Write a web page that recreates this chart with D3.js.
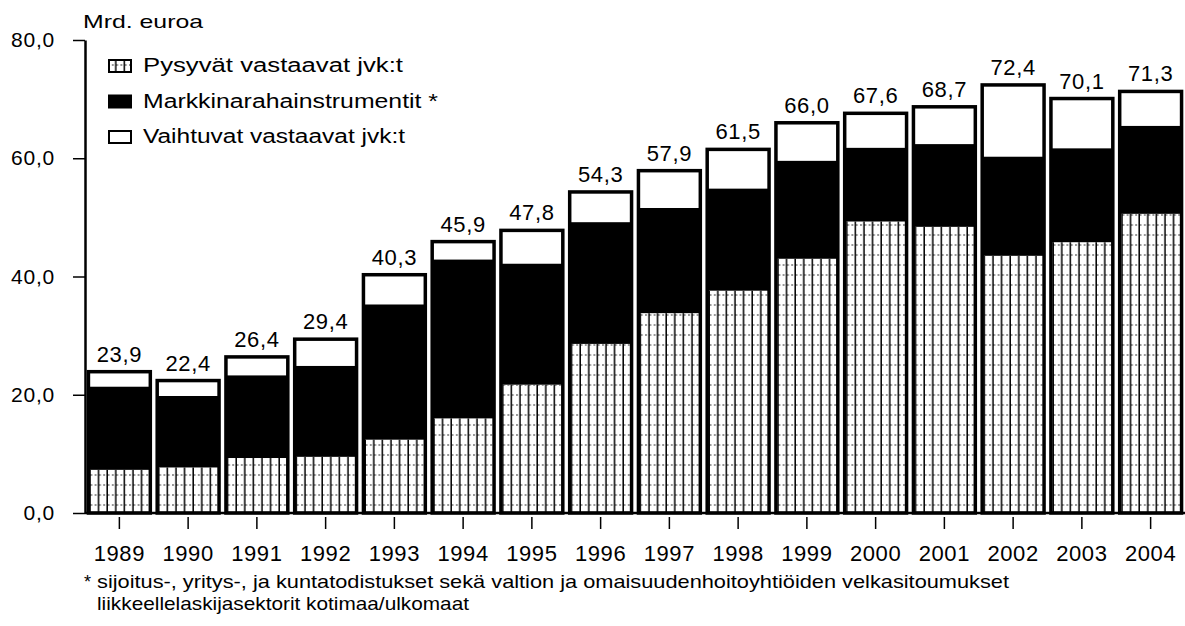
<!DOCTYPE html>
<html>
<head>
<meta charset="utf-8">
<script src="https://cdn.jsdelivr.net/npm/d3@7"></script>
<style>
  body { margin: 0; background: #fff; }
  svg text { font-family: "Liberation Sans", Arial, Helvetica, sans-serif; fill: #000; }
</style>
</head>
<body>
<div class="chart-container"></div>
<script>
// Data (Mrd. euroa)
const years = [1989, 1990, 1991, 1992, 1993, 1994, 1995, 1996, 1997, 1998, 1999, 2000, 2001, 2002, 2003, 2004];
const pysyvat = [7.3, 7.7, 9.3, 9.5, 12.4, 16.0, 21.7, 28.6, 33.8, 37.6, 43.0, 49.3, 48.4, 43.5, 45.8, 50.6];
const markkina = [14.1, 12.1, 14.0, 15.4, 22.9, 26.9, 20.5, 20.6, 17.8, 17.3, 16.6, 12.5, 14.0, 16.8, 15.9, 14.9];
const vaihtuvat = [2.5, 2.6, 3.1, 4.5, 5.0, 3.0, 5.6, 5.1, 6.3, 6.6, 6.4, 5.8, 6.3, 12.1, 8.4, 5.8];
const totalLabels = ["23,9", "22,4", "26,4", "29,4", "40,3", "45,9", "47,8", "54,3", "57,9", "61,5", "66,0", "67,6", "68,7", "72,4", "70,1", "71,3"];
const yTicks = [0, 20, 40, 60, 80];
const seriesNames = ["Pysyvät vastaavat jvk:t", "Markkinarahainstrumentit *", "Vaihtuvat vastaavat jvk:t"];
const footnote = [
    "sijoitus-, yritys-, ja kuntatodistukset sekä valtion ja omaisuudenhoitoyhtiöiden velkasitoumukset",
    "liikkeellelaskijasektorit kotimaa/ulkomaat"
];

function draw() {
    const width = 1185;
    const height = 626;
    const marginLeft = 85;
    const marginRight = 0;
    const marginTop = 40;
    const zeroY = 513;

    const rows = years.map((yr, i) => ({ year: yr, p: pysyvat[i], m: markkina[i], v: vaihtuvat[i] }));
    const keys = ["p", "m", "v"];
    const stacked = d3.stack().keys(keys)(rows);

    const x = d3.scaleBand()
        .domain(years)
        .range([marginLeft, width - marginRight])
        .paddingInner(0.1)
        .paddingOuter(0.05);

    const y = d3.scaleLinear()
        .domain([0, 80])
        .range([zeroY, marginTop]);

    const svg = d3.select('.chart-container').append("svg")
        .attr("width", width)
        .attr("height", height);

    // grid pattern for the bottom segment
    const defs = svg.append("defs");
    const pat = defs.append("pattern")
        .attr("id", "grid")
        .attr("patternUnits", "userSpaceOnUse")
        .attr("width", 8.6)
        .attr("height", 10);
    pat.append("rect").attr("width", 8.6).attr("height", 10).attr("fill", "#fff");
    pat.append("line").attr("x1", 4).attr("x2", 4).attr("y1", 0).attr("y2", 10)
        .attr("stroke", "#000").attr("stroke-width", 1.5);
    pat.append("line").attr("x1", 0).attr("x2", 8.6).attr("y1", 5).attr("y2", 5)
        .attr("stroke", "#000").attr("stroke-width", 0.8).attr("stroke-dasharray", "2,2.3");

    const fills = { p: "url(#grid)", m: "#000", v: "#fff" };

    // segments
    svg.append("g").selectAll("g")
        .data(stacked)
        .join("g")
        .attr("fill", d => fills[d.key])
        .selectAll("rect")
        .data(d => d)
        .join("rect")
        .attr("x", d => x(d.data.year))
        .attr("y", d => y(d[1]))
        .attr("width", x.bandwidth())
        .attr("height", d => y(d[0]) - y(d[1]));

    // bar outlines
    const top = stacked[stacked.length - 1];
    svg.append("g").selectAll("rect")
        .data(top)
        .join("rect")
        .attr("x", d => x(d.data.year))
        .attr("y", d => y(d[1]))
        .attr("width", x.bandwidth())
        .attr("height", d => y(0) - y(d[1]))
        .attr("fill", "none")
        .attr("stroke", "#000")
        .attr("stroke-width", 3.5);

    // total labels
    svg.append("g").selectAll("text")
        .data(top)
        .join("text")
        .attr("x", (d, i) => x(d.data.year) + x.bandwidth() / 2)
        .attr("y", d => y(d[1]) - 10)
        .attr("text-anchor", "middle")
        .style("font-size", "22px")
        .style("letter-spacing", "0.6px")
        .text((d, i) => totalLabels[i]);

    // y axis
    const yAxis = svg.append("g")
        .attr("transform", `translate(${marginLeft},0)`)
        .call(d3.axisLeft(y).tickValues(yTicks)
            .tickFormat(d => d3.format(".1f")(d).replace(".", ","))
            .tickSizeInner(12).tickSizeOuter(0).tickPadding(18));
    yAxis.select(".domain").attr("stroke-width", 2.5);
    yAxis.selectAll(".tick line").attr("stroke-width", 1.5);
    yAxis.selectAll("text").style("font-size", "21px").style("letter-spacing", "0.8px");

    // x axis line
    svg.append("line")
        .attr("x1", marginLeft).attr("x2", width)
        .attr("y1", y(0)).attr("y2", y(0))
        .attr("stroke", "#000").attr("stroke-width", 2.5);

    // x axis ticks and labels
    const xAxis = svg.append("g")
        .attr("transform", `translate(0,${zeroY + 4})`)
        .call(d3.axisBottom(x).tickSizeInner(12).tickSizeOuter(0).tickPadding(16));
    xAxis.select(".domain").remove();
    xAxis.selectAll(".tick line").attr("stroke-width", 1.5);
    xAxis.selectAll("text").style("font-size", "22px").style("letter-spacing", "0.6px");

    // unit label
    svg.append("text")
        .attr("x", 83)
        .attr("y", 28)
        .style("font-size", "19px")
        .attr("textLength", 120)
        .attr("lengthAdjust", "spacingAndGlyphs")
        .text("Mrd. euroa");

    // legend
    const legend = svg.append("g");
    const legendFills = ["url(#grid)", "#000", "#fff"];
    const legendWidths = [260, 295, 262];
    seriesNames.forEach((name, i) => {
        legend.append("rect")
            .attr("x", 109)
            .attr("y", 60 + i * 35.5)
            .attr("width", 22)
            .attr("height", 12)
            .attr("fill", legendFills[i])
            .attr("stroke", "#000")
            .attr("stroke-width", 2);
        legend.append("text")
            .attr("x", 143)
            .attr("y", 72 + i * 35.5)
            .style("font-size", "20px")
            .attr("textLength", legendWidths[i])
            .attr("lengthAdjust", "spacingAndGlyphs")
            .text(name);
    });

    // footnote
    svg.append("text")
        .attr("x", 84)
        .attr("y", 588)
        .style("font-size", "18px")
        .text("*");
    footnote.forEach((line, i) => {
        svg.append("text")
            .attr("x", 97)
            .attr("y", 588 + i * 22)
            .style("font-size", "19px")
            .attr("textLength", i === 0 ? 912 : 372)
            .attr("lengthAdjust", "spacingAndGlyphs")
            .text(line);
    });
}

draw();
</script>
</body>
</html>
